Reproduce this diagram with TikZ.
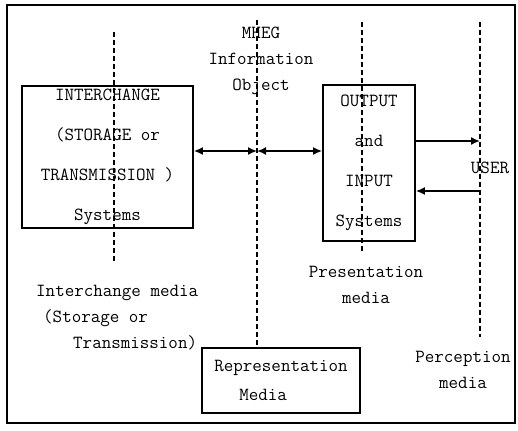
\documentclass[tikz,border=0pt]{standalone}
\usetikzlibrary{arrows.meta,calc}

\tikzset{
  sysbox/.style={draw,line width=1.8pt,inner sep=0pt,align=center,
    font=\fontsize{18.5}{40}\selectfont\ttfamily},
  medline/.style={line width=1.4pt,dash pattern=on 5pt off 3pt},
  lbl/.style={inner sep=0pt,align=center,font=\fontsize{18.5}{26}\selectfont\ttfamily},
  link/.style={line width=1.6pt,>={Latex[length=9pt,width=8pt]}}
}

\begin{document}
\begin{tikzpicture}[x=1pt,y=-1pt]
        \useasboundingbox (0,0) rectangle (518,430);
        \draw[line width=1.8pt] (7,5) rectangle (515,423);

        % systems and media boxes
        \node[sysbox,minimum width=171pt,minimum height=142pt] (ichg) at (107.5,157)
          {INTERCHANGE\\(STORAGE or\\TRANSMISSION )\\Systems};
        \node[sysbox,minimum width=92pt,minimum height=156pt] (outin) at (369,163)
          {OUTPUT\\and\\INPUT\\Systems};
        \node[sysbox,align=left,minimum width=158pt,minimum height=65pt,
          font=\fontsize{18.5}{29}\selectfont\ttfamily] (repr) at (281,380.5)
          {Representation\\\hspace*{25pt}Media};

        % dashed media lines
        \coordinate (d1t) at (114,32);  \coordinate (d1b) at (114,263);
        \coordinate (d2t) at (257,20);  \coordinate (d2b) at (257,348);
        \coordinate (d3t) at (362,22);  \coordinate (d3b) at (362,253);
        \coordinate (d4t) at (480,22);  \coordinate (d4b) at (480,337);
        \draw[medline] (d1t) -- (d1b);
        \draw[medline] (d2t) -- (d2b);
        \draw[medline] (d3t) -- (d3b);
        \draw[medline] (d4t) -- (d4b);

        % labels
        \node[lbl] (mheg) at (261,61) {MHEG\\Information\\Object};
        \node[lbl,align=left,anchor=north west] (imed) at (36,285)
          {Interchange media\\\hspace*{7pt}(Storage or\\\hspace*{37pt}Transmission)};
        \node[lbl] (pmed) at (366,285) {Presentation\\media};
        \node[lbl] (percm) at (463,370) {Perception\\media};
        \node[lbl] (user) at (490,168) {USER};

        % arrows
        \coordinate (mid) at (257,151);
        \coordinate (u1) at (480,141);
        \coordinate (u2) at (480,191);
        \draw[link,<->] (ichg.east |- mid) -- (mid);
        \draw[link,<->] (mid) -- (outin.west |- mid);
        \draw[link,->] (outin.east |- u1) -- (u1);
        \draw[link,->] (u2) -- (outin.east |- u2);

\end{tikzpicture}
\end{document}
